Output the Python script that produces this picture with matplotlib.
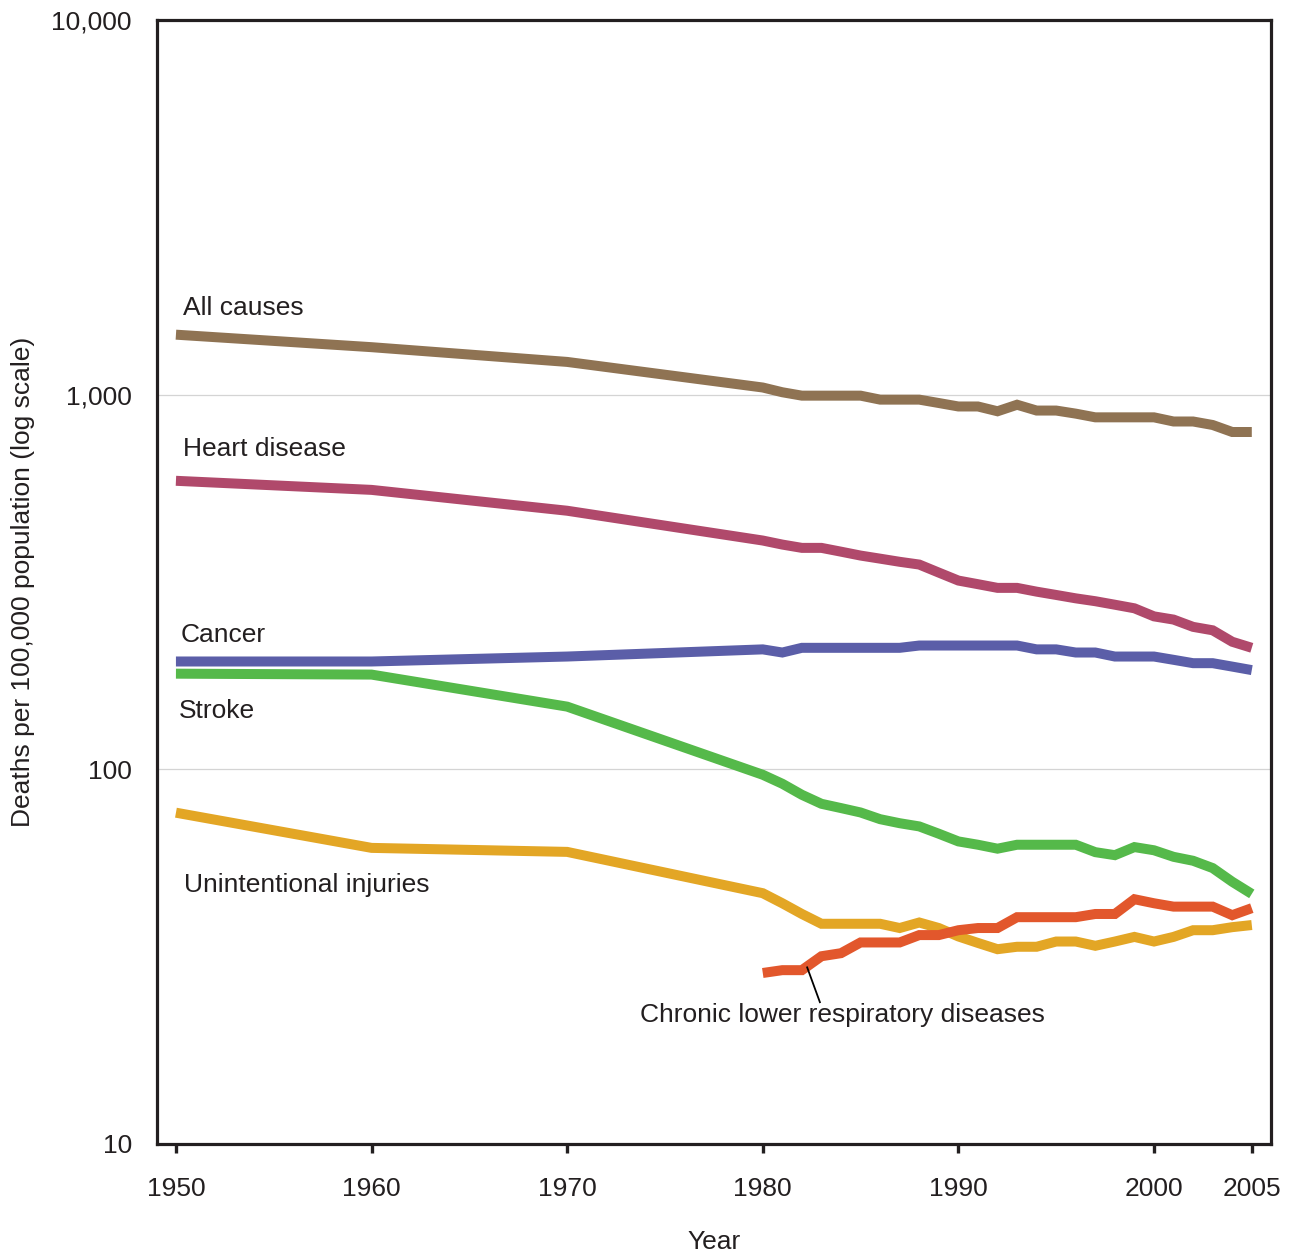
import matplotlib
matplotlib.use("Agg")
import matplotlib.pyplot as plt
import matplotlib.ticker as ticker

plt.rcParams["font.family"] = ["Liberation Sans", "DejaVu Sans"]

years = [1950, 1960, 1970, 1980, 1981, 1982, 1983, 1984, 1985, 1986, 1987,
         1988, 1989, 1990, 1991, 1992, 1993, 1994, 1995, 1996, 1997, 1998,
         1999, 2000, 2001, 2002, 2003, 2004, 2005]
years_clrd = years[3:]

all_causes = [1446, 1339, 1223, 1045, 1015, 994, 994, 994, 994, 970, 970,
              970, 950, 930, 930, 903, 940, 907, 907, 890, 870, 870,
              870, 870, 848, 848, 830, 795, 795]
heart = [589, 557, 490, 408, 398, 390, 390, 381, 372, 365, 358,
         352, 335, 319, 312, 305, 305, 298, 292, 286, 281, 275,
         269, 256, 251, 240, 235, 219, 211]
cancer = [194, 194, 200, 209, 205, 211, 211, 211, 211, 211, 211,
          214, 214, 214, 214, 214, 214, 209, 209, 205, 205, 200,
          200, 200, 196, 192, 192, 188, 184]
stroke = [180, 179, 147, 96.7, 91.5, 85.5, 80.9, 78.8, 76.7, 73.6, 71.8,
          70.4, 67.3, 64.2, 62.9, 61.4, 62.9, 62.9, 62.9, 62.9, 60.1, 59.0,
          62.0, 60.8, 58.4, 57.0, 54.5, 50.1, 46.5]
injuries = [76.6, 61.7, 60.2, 46.7, 43.9, 41.1, 38.7, 38.7, 38.7, 38.7, 37.7,
            39.0, 37.7, 35.8, 34.4, 33.1, 33.6, 33.6, 34.7, 34.7, 33.8, 34.7,
            35.7, 34.7, 35.7, 37.2, 37.2, 37.9, 38.4]
clrd = [28.6, 29.1, 29.1, 31.7, 32.3, 34.5, 34.5, 34.5, 36.1, 36.1, 37.2,
        37.7, 37.7, 40.3, 40.3, 40.3, 40.3, 41.1, 41.1, 45.0, 43.9, 43.0,
        43.0, 43.0, 40.8, 42.6]

x_ticks = [1950, 1960, 1970, 1980, 1990, 2000, 2005]
y_ticks = [10, 100, 1000, 10000]

fig = plt.figure(figsize=(12.94, 12.52), dpi=100)
ax = fig.add_axes([0.1213, 0.0863, 0.8609, 0.8977])

lw = 7.2
style = dict(linewidth=lw, solid_capstyle="butt", solid_joinstyle="miter")
ax.plot(years, all_causes, color="#8f7353", **style)
ax.plot(years, heart, color="#b0496b", **style)
ax.plot(years, cancer, color="#5b5ea8", **style)
ax.plot(years, stroke, color="#55b94a", **style)
ax.plot(years, injuries, color="#e3a625", **style)
ax.plot(years_clrd, clrd, color="#e2572c", **style)

ax.set_yscale("log")
ax.set_ylim(10, 10000)
ax.set_xlim(1949.03, 2005.98)
ax.set_xticks(x_ticks)
ax.set_yticks(y_ticks)
ax.yaxis.set_minor_locator(ticker.NullLocator())
ax.yaxis.set_major_formatter(ticker.FuncFormatter(lambda v, p: f"{int(v):,}"))
ax.grid(axis="y", color="#d4d4d4", linewidth=0.9)
ax.set_axisbelow(True)

ax.tick_params(axis="x", direction="out", length=6.5, width=2.4, pad=17,
               labelsize=19, color="#231f20", labelcolor="#231f20")
ax.tick_params(axis="y", length=0, pad=18, labelsize=19, labelcolor="#231f20")
for s in ax.spines.values():
    s.set_linewidth(2.3)
    s.set_color("#231f20")

ax.set_xlabel("Year", fontsize=19, color="#231f20", labelpad=21)
ax.set_ylabel("Deaths per 100,000 population (log scale)", fontsize=19,
              color="#231f20", labelpad=12)

# series labels sit right next to the lines, no legend
lab = dict(fontsize=19, color="#231f20", ha="left", va="center")
ax.text(1950.36, 1708, "All causes", **lab)
ax.text(1950.36, 717, "Heart disease", **lab)
ax.text(1950.26, 228, "Cancer", **lab)
ax.text(1950.15, 143, "Stroke", **lab)
ax.text(1950.41, 49.2, "Unintentional injuries", **lab)
ax.text(1973.72, 22.1, "Chronic lower respiratory diseases", **lab)
ax.plot([1982.27, 1982.92], [29.6, 23.9], color="black", linewidth=1.3)

fig.savefig("out.png", dpi=100)
